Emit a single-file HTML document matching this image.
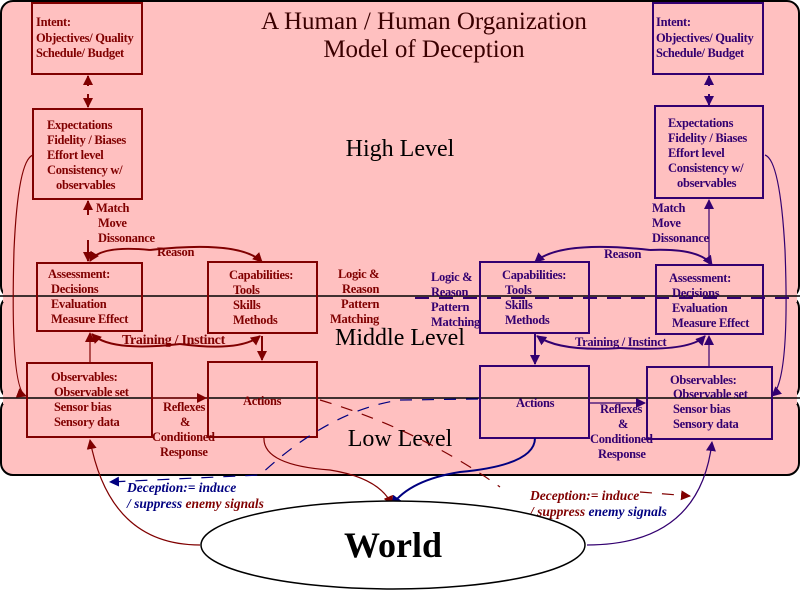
<!DOCTYPE html>
<html><head><meta charset="utf-8"><style>
html,body{margin:0;padding:0;background:#fff;}
svg{display:block;}
.t{font-family:"Liberation Serif",serif;font-weight:bold;font-size:12.5px;letter-spacing:-0.3px;}
.r{fill:#800000;} .p{fill:#330070;}
</style></head><body>
<svg width="800" height="600" viewBox="0 0 800 600" xmlns="http://www.w3.org/2000/svg">
<defs>
<marker id="ar" markerWidth="10" markerHeight="10" refX="9" refY="5" orient="auto" markerUnits="userSpaceOnUse"><path d="M0,0 L10,5 L0,10 z" fill="#800000"/></marker>
<marker id="ap" markerWidth="10" markerHeight="10" refX="9" refY="5" orient="auto" markerUnits="userSpaceOnUse"><path d="M0,0 L10,5 L0,10 z" fill="#330070"/></marker>
<marker id="ab" markerWidth="10" markerHeight="10" refX="9" refY="5" orient="auto" markerUnits="userSpaceOnUse"><path d="M0,0 L10,5 L0,10 z" fill="#000080"/></marker>
</defs>
<rect x="1" y="1" width="798" height="297" rx="12" fill="#ffc0c0" stroke="#000" stroke-width="2"/>
<rect x="1" y="296" width="798" height="103" rx="12" fill="#ffc0c0" stroke="#000" stroke-width="2"/>
<rect x="1" y="398" width="798" height="77" rx="12" fill="#ffc0c0" stroke="#000" stroke-width="2"/>
<rect x="3" y="290" width="794" height="12" fill="#ffc0c0"/>
<rect x="3" y="392" width="794" height="12" fill="#ffc0c0"/>
<line x1="0" y1="296" x2="800" y2="296" stroke="#000" stroke-width="1.5"/>
<line x1="0" y1="398" x2="800" y2="398" stroke="#000" stroke-width="1.5"/>
<line x1="415" y1="298" x2="790" y2="298" stroke="#330070" stroke-width="2" stroke-dasharray="14,10"/>

<text x="424" y="29" text-anchor="middle" font-family="Liberation Serif,serif" font-size="25" fill="#3a0000">A Human / Human Organization</text>
<text x="424" y="57" text-anchor="middle" font-family="Liberation Serif,serif" font-size="25" fill="#3a0000">Model of Deception</text>
<text x="400" y="156" text-anchor="middle" font-family="Liberation Serif,serif" font-size="24" fill="#000">High Level</text>
<text x="400" y="345" text-anchor="middle" font-family="Liberation Serif,serif" font-size="24" fill="#000">Middle Level</text>
<text x="400" y="446" text-anchor="middle" font-family="Liberation Serif,serif" font-size="24" fill="#000">Low Level</text>

<g fill="none" stroke="#800000" stroke-width="2">
<rect x="32" y="3" width="110" height="71"/>
<rect x="33" y="109" width="109" height="90"/>
<rect x="37" y="263" width="105" height="68"/>
<rect x="208" y="262" width="109" height="71"/>
<rect x="27" y="363" width="125" height="74"/>
<rect x="208" y="362" width="109" height="75"/>
</g>
<g fill="none" stroke="#330070" stroke-width="2">
<rect x="653" y="3" width="110" height="71"/>
<rect x="655" y="106" width="108" height="92"/>
<rect x="480" y="262" width="109" height="71"/>
<rect x="656" y="265" width="107" height="69"/>
<rect x="647" y="367" width="125" height="72"/>
<rect x="480" y="366" width="109" height="72"/>
</g>

<g class="t r">
<text x="36" y="26">Intent:</text><text x="36" y="42">Objectives/ Quality</text><text x="36" y="57">Schedule/ Budget</text>
<text x="47" y="129">Expectations</text><text x="47" y="144">Fidelity / Biases</text><text x="47" y="159">Effort level</text><text x="47" y="174">Consistency w/</text><text x="56" y="189">observables</text>
<text x="96" y="212">Match</text><text x="98" y="227">Move</text><text x="98" y="242">Dissonance</text>
<text x="157" y="256">Reason</text>
<text x="48" y="278">Assessment:</text><text x="51" y="293">Decisions</text><text x="51" y="308">Evaluation</text><text x="51" y="323">Measure Effect</text>
<text x="229" y="279">Capabilities:</text><text x="233" y="294">Tools</text><text x="233" y="309">Skills</text><text x="233" y="324">Methods</text>
<text x="338" y="278">Logic &amp;</text><text x="342" y="293">Reason</text><text x="341" y="308">Pattern</text><text x="330" y="323">Matching</text>
<text x="122" y="344" style="font-size:14px">Training / Instinct</text>
<text x="51" y="381">Observables:</text><text x="54" y="396">Observable set</text><text x="54" y="411">Sensor bias</text><text x="54" y="426">Sensory data</text>
<text x="243" y="405">Actions</text>
<text x="163" y="411">Reflexes</text><text x="180" y="426">&amp;</text><text x="152" y="441">Conditioned</text><text x="160" y="456">Response</text>
</g>
<g class="t p">
<text x="656" y="26">Intent:</text><text x="656" y="42">Objectives/ Quality</text><text x="656" y="57">Schedule/ Budget</text>
<text x="668" y="127">Expectations</text><text x="668" y="142">Fidelity / Biases</text><text x="668" y="157">Effort level</text><text x="668" y="172">Consistency w/</text><text x="677" y="187">observables</text>
<text x="652" y="212">Match</text><text x="652" y="227">Move</text><text x="652" y="242">Dissonance</text>
<text x="604" y="258">Reason</text>
<text x="431" y="281">Logic &amp;</text><text x="431" y="296">Reason</text><text x="431" y="311">Pattern</text><text x="431" y="326">Matching</text>
<text x="502" y="279">Capabilities:</text><text x="505" y="294">Tools</text><text x="505" y="309">Skills</text><text x="505" y="324">Methods</text>
<text x="669" y="282">Assessment:</text><text x="672" y="297">Decisions</text><text x="672" y="312">Evaluation</text><text x="672" y="327">Measure Effect</text>
<text x="575" y="346">Training / Instinct</text>
<text x="670" y="384">Observables:</text><text x="673" y="398">Observable set</text><text x="673" y="413">Sensor bias</text><text x="673" y="428">Sensory data</text>
<text x="516" y="407">Actions</text>
<text x="600" y="413">Reflexes</text><text x="618" y="428">&amp;</text><text x="590" y="443">Conditioned</text><text x="598" y="458">Response</text>
</g>

<g fill="none" stroke="#800000" stroke-width="2">
<line x1="88" y1="86" x2="88" y2="76" marker-end="url(#ar)"/>
<line x1="88" y1="94" x2="88" y2="107" marker-end="url(#ar)"/>
<line x1="88" y1="215" x2="88" y2="201" marker-end="url(#ar)"/>
<line x1="88" y1="240" x2="88" y2="261" marker-end="url(#ar)"/>
<path d="M150,250 Q 100,245 90,261" marker-end="url(#ar)"/>
<path d="M150,250 Q 240,240 262,262" marker-end="url(#ar)"/>
<line x1="262" y1="336" x2="262" y2="360" marker-end="url(#ar)"/>
<path d="M180,344 Q 110,352 92,334" marker-end="url(#ar)"/>
<path d="M180,344 Q 240,352 260,336" marker-end="url(#ar)"/>
</g>
<g fill="none" stroke="#800000" stroke-width="1.2">
<line x1="90" y1="362" x2="90" y2="333" marker-end="url(#ar)"/>
<line x1="152" y1="398" x2="206" y2="398" marker-end="url(#ar)"/>
<path d="M33,155 Q 18,160 14,250 Q 10,390 26,396" marker-end="url(#ar)"/>
<path d="M264,437 Q 262,465 330,470 Q 380,478 392,505" marker-end="url(#ar)"/>
<path d="M200,545 Q 110,545 90,440" marker-end="url(#ar)"/>
<path d="M320,400 Q 420,430 500,487" stroke-dasharray="12,10"/>
<path d="M640,492 L690,496" stroke-dasharray="12,10" marker-end="url(#ar)"/>
</g>
<g fill="none" stroke="#330070" stroke-width="2">
<line x1="709" y1="86" x2="709" y2="76" marker-end="url(#ap)"/>
<line x1="709" y1="94" x2="709" y2="105" marker-end="url(#ap)"/>
<path d="M650,250 Q 560,240 535,262" marker-end="url(#ap)"/>
<path d="M650,250 Q 700,248 712,265" marker-end="url(#ap)"/>
<line x1="535" y1="334" x2="535" y2="364" marker-end="url(#ap)"/>
<path d="M620,348 Q 560,352 537,336" marker-end="url(#ap)"/>
<path d="M620,348 Q 690,352 705,336" marker-end="url(#ap)"/>
</g>
<g fill="none" stroke="#330070" stroke-width="1.2">
<line x1="709" y1="265" x2="709" y2="200" marker-end="url(#ap)"/>
<line x1="709" y1="367" x2="709" y2="336" marker-end="url(#ap)"/>
<line x1="589" y1="403" x2="645" y2="403" marker-end="url(#ap)"/>
<path d="M765,155 Q 780,160 785,250 Q 790,380 772,396" marker-end="url(#ap)"/>
<path d="M535,438 Q 535,465 460,472 Q 410,480 392,505" stroke="#000080" stroke-width="2" marker-end="url(#ab)"/>
<path d="M587,545 Q 700,545 712,442" marker-end="url(#ap)"/>
<path d="M478,399 L400,400 Q 330,410 260,475 L110,482" stroke="#000080" stroke-dasharray="12,10" marker-end="url(#ab)"/>
</g>

<g font-family="Liberation Serif,serif" font-style="italic" font-weight="bold" font-size="13.5">
<text x="127" y="492" fill="#000080">Deception:= induce</text>
<text x="127" y="508" fill="#000080">/ suppress <tspan fill="#800000">enemy signals</tspan></text>
<text x="530" y="500" fill="#800000">Deception:= induce</text>
<text x="530" y="516" fill="#800000">/ suppress <tspan fill="#000080">enemy signals</tspan></text>
</g>

<ellipse cx="393" cy="545" rx="192" ry="44" fill="#fff" stroke="#000" stroke-width="1.5"/>
<text x="393" y="557" text-anchor="middle" font-family="Liberation Serif,serif" font-weight="bold" font-size="36" fill="#000">World</text>
</svg>
</body></html>
